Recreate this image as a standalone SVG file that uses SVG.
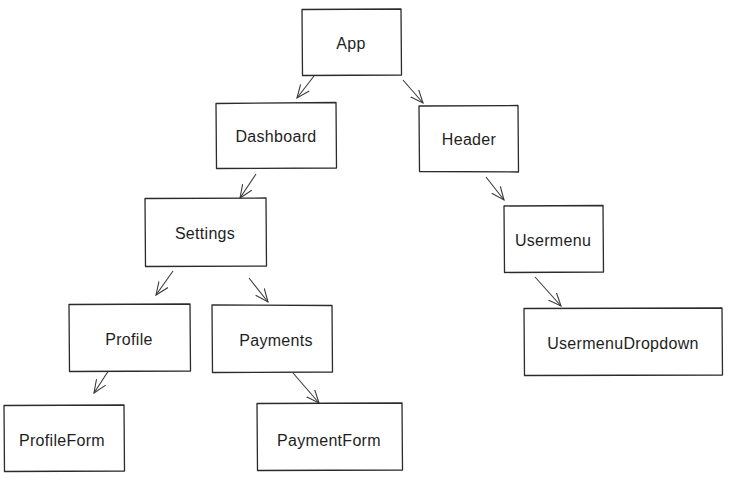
<svg xmlns="http://www.w3.org/2000/svg" width="736" height="484" viewBox="0 0 736 484">
<defs>
<style>
.box{fill:#fff;stroke:#2b2b2b;stroke-width:1.3;stroke-linejoin:round}
.lbl{font-family:"Liberation Sans",Arial,sans-serif;font-size:16px;letter-spacing:0.3px;fill:#1e1e1e;text-anchor:middle;dominant-baseline:central}
.edge{fill:none;stroke:#3a3a3a;stroke-width:1.1;marker-end:url(#ah)}
</style>
<marker id="ah" viewBox="0 0 14 12" refX="13" refY="6" markerWidth="14" markerHeight="12" markerUnits="userSpaceOnUse" orient="auto">
<path d="M0,0.5 L13,6 L0,11.5" fill="none" stroke="#3a3a3a" stroke-width="1.1"/>
</marker>
</defs>
<rect width="736" height="484" fill="#fff"/>
<g id="connectors">
<line class="edge" x1="314" y1="76" x2="297" y2="98"/>
<line class="edge" x1="403" y1="80" x2="423" y2="103"/>
<line class="edge" x1="256" y1="174" x2="240" y2="198"/>
<line class="edge" x1="486" y1="177" x2="504" y2="200"/>
<line class="edge" x1="173" y1="271" x2="156" y2="295"/>
<line class="edge" x1="249" y1="278" x2="268" y2="302"/>
<line class="edge" x1="109" y1="370" x2="94" y2="393"/>
<line class="edge" x1="293" y1="373" x2="319" y2="403"/>
<line class="edge" x1="535" y1="277" x2="561" y2="306"/>
</g>
<g id="node-app">
<path class="box" d="M302,9.5 L401,9 L401.5,75 L302.5,75.5 Z"/>
<text class="lbl" x="351" y="43">App</text>
</g>
<g id="node-dashboard">
<path class="box" d="M216,103.5 L336,102.5 L336.5,168 L216.5,168.5 Z"/>
<text class="lbl" x="276" y="136">Dashboard</text>
</g>
<g id="node-header">
<path class="box" d="M419,106 L518,105.5 L518.5,172 L419.5,171.5 Z"/>
<text class="lbl" x="469" y="139">Header</text>
</g>
<g id="node-settings">
<path class="box" d="M145,198.5 L266,198 L266.5,266 L145.5,266.5 Z"/>
<text class="lbl" x="205" y="233">Settings</text>
</g>
<g id="node-usermenu">
<path class="box" d="M504,206 L603,205.5 L603.5,272 L504.5,272.5 Z"/>
<text class="lbl" x="553" y="240">Usermenu</text>
</g>
<g id="node-profile">
<path class="box" d="M69,304.5 L190,304 L190.5,371 L69.5,371.5 Z"/>
<text class="lbl" x="129" y="339">Profile</text>
</g>
<g id="node-payments">
<path class="box" d="M212,305 L332,305.5 L332.5,372 L212.5,372.5 Z"/>
<text class="lbl" x="276" y="340">Payments</text>
</g>
<g id="node-usermenudropdown">
<path class="box" d="M524,308.5 L722,308 L722.5,375 L524.5,375.5 Z"/>
<text class="lbl" x="623" y="343">UsermenuDropdown</text>
</g>
<g id="node-profileform">
<path class="box" d="M4,405.5 L124,405 L124.5,471 L4.5,471.5 Z"/>
<text class="lbl" x="62" y="440">ProfileForm</text>
</g>
<g id="node-paymentform">
<path class="box" d="M257,403.5 L402,403 L402.5,470 L257.5,470.5 Z"/>
<text class="lbl" x="329" y="440">PaymentForm</text>
</g>
</svg>
